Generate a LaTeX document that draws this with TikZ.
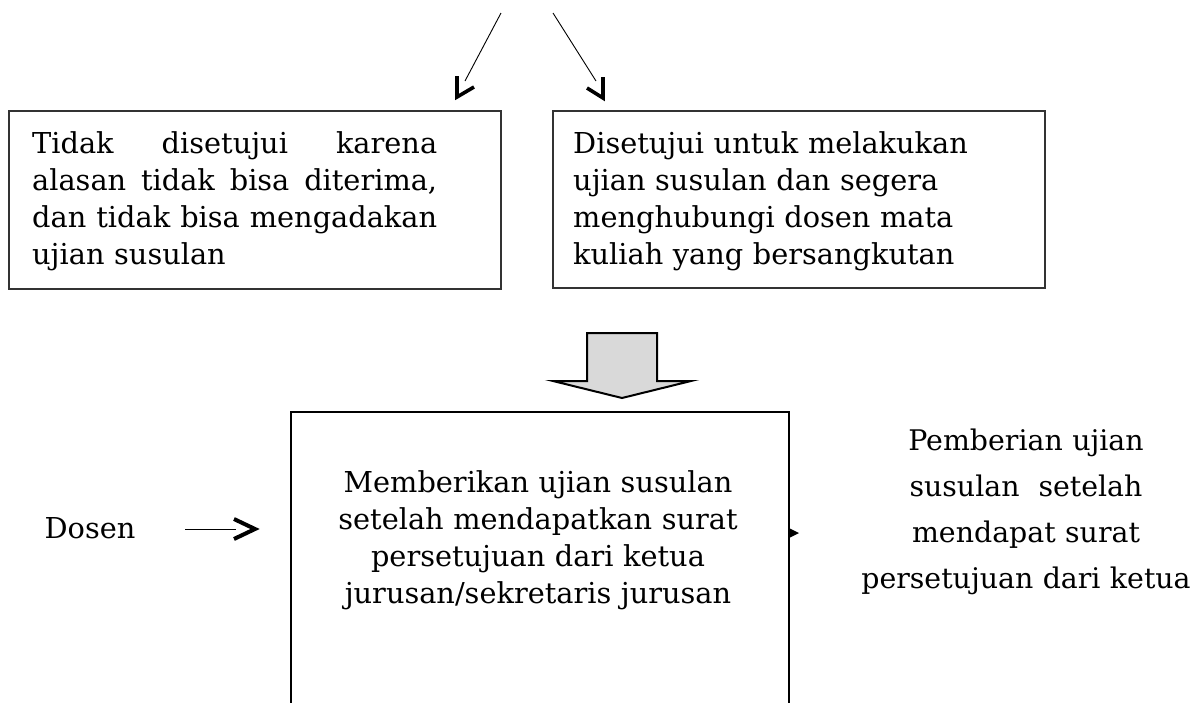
\documentclass[tikz,border=0pt]{standalone}
\usepackage{fontspec}
\setmainfont{DejaVu Serif}
\usetikzlibrary{calc}
\begin{document}
\begin{tikzpicture}[x=1pt,y=-1pt,
  box/.style={draw=black!80, line width=1.4pt, rectangle, inner sep=0pt},
  txt/.style={inner sep=0pt, font=\fontsize{28.8}{37}\selectfont},
  thinline/.style={line width=0.9pt},
  chev/.style={line width=3.6pt, line cap=butt, line join=miter},
  blockarrow/.style={draw=black, line width=2pt, fill=black!15, line join=miter}]
\useasboundingbox (0,0) rectangle (1200,702);

% top connectors
\coordinate (ls) at (501,13);
\coordinate (le) at (465,81);
\coordinate (ltip) at (457,97);
\coordinate (rs) at (553,13);
\coordinate (re) at (596,81);
\coordinate (rtip) at (603,98);
\draw[thinline] (ls) -- (le);
\draw[thinline] (rs) -- (re);
\draw[chev] ($(ltip)+(0,-21)$) -- (ltip) -- ($(ltip)+(17,-10)$);
\draw[chev] ($(rtip)+(0,-21)$) -- (rtip) -- ($(rtip)+(-16,-10)$);

% boxes
\node[box, minimum width=492pt, minimum height=178pt] (tolak) at (255,200) {};
\node[box, minimum width=492pt, minimum height=177pt] (setuju) at (799,199.5) {};

\node[txt, anchor=base west, text width=405pt, align=left] (tolaktxt) at (32,153) {%
\makebox[405pt]{Tidak \hfill disetujui \hfill karena}\\
\makebox[405pt]{alasan \hfill tidak \hfill bisa \hfill diterima,}\\
\makebox[405pt]{dan \hfill tidak \hfill bisa \hfill mengadakan}\\
ujian susulan};

\node[txt, anchor=base west, text width=450pt, align=left] (setujutxt) at (573,153) {%
Disetujui untuk melakukan\\
ujian susulan dan segera\\
menghubungi dosen mata\\
kuliah yang bersangkutan};

% block arrow
\coordinate (ba) at (622,333);
\draw[blockarrow] (587,333) -- (657,333) -- (657,381) -- (691,381) -- (622,398) -- (553,381) -- (587,381) -- cycle;

% big box (open at bottom)
\coordinate (bbl) at (291,712);
\coordinate (bbr) at (789,712);
\draw[line width=1.5pt] (bbl) -- (291,412) -- (789,412) -- (bbr);
\node[txt, anchor=base, text width=460pt, align=center] (beri) at (538,492) {%
Memberikan ujian susulan\\
setelah mendapatkan surat\\
persetujuan dari ketua\\
jurusan/sekretaris jurusan};

% output marker
\coordinate (outp) at (789,533);
\fill[black] (788,527.5) -- (799,533) -- (788,538.5) -- cycle;

% right text
\node[txt, anchor=base, text width=340pt, align=center, font=\fontsize{28.4}{46}\selectfont] (hasil) at (1026,450) {%
Pemberian ujian\\
susulan\ \ setelah\\
mendapat surat\\
persetujuan dari ketua};

% Dosen
\node[txt, anchor=base] (dosen) at (90,538) {Dosen};
\coordinate (ds) at (185,529);
\coordinate (de) at (236,529);
\coordinate (dtip) at (255,529);
\draw[thinline] (ds) -- (de);
\draw[chev, line width=4pt] ($(dtip)+(-21,-10)$) -- (dtip) -- ($(dtip)+(-21,10)$);
\end{tikzpicture}
\end{document}
